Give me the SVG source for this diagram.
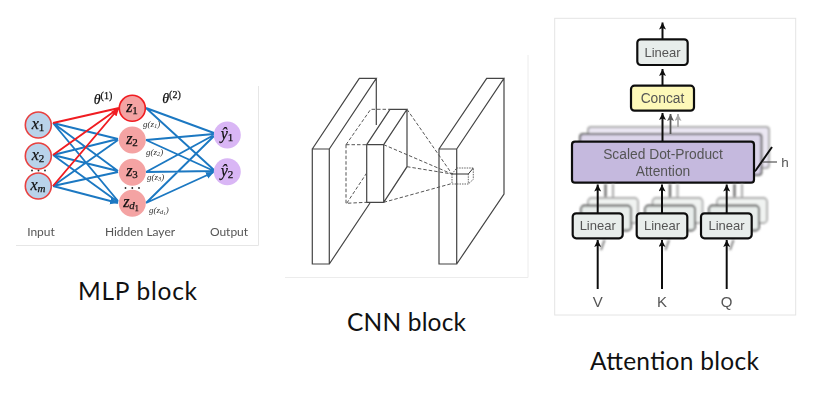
<svg xmlns="http://www.w3.org/2000/svg" width="832" height="400" viewBox="0 0 832 400">
<style>
.cap{font-family:"Lato","Open Sans","Liberation Sans",sans-serif;font-size:24.500px;fill:#111}
.m{font-family:"Liberation Serif",serif;font-style:italic;fill:#111;text-anchor:middle;stroke:#111;stroke-width:.25}
.mg{font-family:"Liberation Serif",serif;font-style:italic;fill:#333;font-size:9px}
.ax{font-family:"Lato","Liberation Sans",sans-serif;font-size:12px;fill:#555;text-anchor:middle}
.h{font-family:"Liberation Sans",Arial,sans-serif;fill:#555;text-anchor:middle}
.blue{stroke:#1b78c2;stroke-width:1.9;fill:none;marker-end:url(#ab)}
.red{stroke:#f01c20;stroke-width:1.9;fill:none;marker-end:url(#ar)}
.inp{fill:#b9d3ea;stroke:#e8413f;stroke-width:1.6}
.hid{fill:#f4a3a3}
.out{fill:#d9b6f5}
.s{stroke:#444;stroke-width:1.2;fill:none}
.d{stroke:#555;stroke-width:1;fill:none;stroke-dasharray:3.500 2}
.lin{fill:#e8edeb;stroke:#111;stroke-width:2.2}
.arr{stroke:#111;stroke-width:2;fill:none;marker-end:url(#ak)}
.panel{fill:#fff;stroke:#e4e4e4;stroke-width:1}
.dot{fill:#222}
</style>
<defs>
<filter id="soft" filterUnits="userSpaceOnUse" x="0" y="0" width="832" height="400"><feGaussianBlur stdDeviation="0.45"/></filter>
<filter id="soft2" filterUnits="userSpaceOnUse" x="0" y="0" width="832" height="400"><feGaussianBlur stdDeviation="0.8"/></filter>
<marker id="ab" markerUnits="userSpaceOnUse" markerWidth="9" markerHeight="8" refX="8" refY="4" orient="auto"><path d="M0 0.500L8 4L0 7.500Z" fill="#1b78c2"/></marker>
<marker id="ar" markerUnits="userSpaceOnUse" markerWidth="9" markerHeight="8" refX="8" refY="4" orient="auto"><path d="M0 0.500L8 4L0 7.500Z" fill="#f01c20"/></marker>
<marker id="ak" markerUnits="userSpaceOnUse" markerWidth="8" markerHeight="8" refX="7" refY="3.500" orient="auto"><path d="M0 0L7 3.500L0 7L1.500 3.500Z" fill="#111"/></marker>
<marker id="ak2" markerUnits="userSpaceOnUse" markerWidth="8" markerHeight="8" refX="7" refY="3.500" orient="auto"><path d="M0 0L7 3.500L0 7L1.500 3.500Z" fill="#555"/></marker>
<marker id="ak3" markerUnits="userSpaceOnUse" markerWidth="8" markerHeight="8" refX="7" refY="3.500" orient="auto"><path d="M0 0L7 3.500L0 7L1.500 3.500Z" fill="#aaa"/></marker>
</defs>
<rect width="832" height="400" fill="#fff"/>

<g id="mlp" filter="url(#soft)">
<path d="M16 245.500H258.500V86" fill="none" stroke="#e6e6e6"/>
<g id="mlp-connectors">
<path class="blue" d="M53 123L118 139M53 123L118 171M53 123L118 201M53 155L118 139M53 155L118 171M53 155L118 202M53 186L118 140M53 186L118 172M53 186L118 203"/>
<path class="blue" d="M146 108L214 133M146 108L214 170M146 140L214 134M146 140L214 171M146 172L214 135M146 172L214 171M146 203L214 136M146 203L214 172"/>
<path class="red" d="M53 123L119 108M53 155L119 108M53 186L119 108"/>
</g>
<circle class="dot" cx="32" cy="170.500" r=".9"/><circle class="dot" cx="38.500" cy="170.500" r=".9"/><circle class="dot" cx="45" cy="170.500" r=".9"/>
<circle class="dot" cx="125.500" cy="188" r=".9"/><circle class="dot" cx="132.300" cy="188" r=".9"/><circle class="dot" cx="139" cy="188" r=".9"/>
<g id="x1"><circle class="inp" cx="38.300" cy="125" r="13"/><text class="m" x="38" y="129" font-size="16">x<tspan font-size="11" dy="2" font-style="normal">1</tspan></text></g>
<g id="x2"><circle class="inp" cx="38.300" cy="156" r="13"/><text class="m" x="38" y="160" font-size="16">x<tspan font-size="11" dy="2" font-style="normal">2</tspan></text></g>
<g id="xm"><circle class="inp" cx="38.300" cy="186" r="13"/><text class="m" x="38" y="190" font-size="16">x<tspan font-size="11" dy="2">m</tspan></text></g>
<g id="z1"><circle class="hid" cx="132.300" cy="108.300" r="13" stroke="#f01c20" stroke-width="1.600"/><text class="m" x="132" y="112" font-size="16">z<tspan font-size="11" dy="2" font-style="normal">1</tspan></text></g>
<g id="z2"><circle class="hid" cx="132.300" cy="140" r="13.500"/><text class="m" x="132" y="144" font-size="16">z<tspan font-size="11" dy="2" font-style="normal">2</tspan></text></g>
<g id="z3"><circle class="hid" cx="132.300" cy="172.300" r="13.500"/><text class="m" x="132" y="176" font-size="16">z<tspan font-size="11" dy="2" font-style="normal">3</tspan></text></g>
<g id="zd"><circle class="hid" cx="132.300" cy="203.300" r="13.500"/><text class="m" x="131" y="207" font-size="16">z<tspan font-size="11" dy="2">d</tspan><tspan font-size="8" dy="2" font-style="normal">1</tspan></text></g>
<g id="y1"><circle class="out" cx="227.300" cy="135" r="13.500"/><text class="m" x="227" y="139" font-size="16">ŷ<tspan font-size="11" dy="2" font-style="normal">1</tspan></text></g>
<g id="y2"><circle class="out" cx="227.300" cy="171.700" r="13.500"/><text class="m" x="227" y="175.500" font-size="16">ŷ<tspan font-size="11" dy="2" font-style="normal">2</tspan></text></g>
<text class="m" x="103" y="104" font-size="14">θ<tspan font-size="10" dy="-5" font-style="normal">(1)</tspan></text>
<text class="m" x="171.500" y="103" font-size="14">θ<tspan font-size="10" dy="-5" font-style="normal">(2)</tspan></text>
<text class="mg" x="143" y="127">g(z<tspan font-size="6.500" dy="1">1</tspan><tspan dy="-1">)</tspan></text>
<text class="mg" x="146" y="155">g(z<tspan font-size="6.500" dy="1">2</tspan><tspan dy="-1">)</tspan></text>
<text class="mg" x="147" y="180">g(z<tspan font-size="6.500" dy="1">3</tspan><tspan dy="-1">)</tspan></text>
<text class="mg" x="149" y="213">g(z<tspan font-size="6.500" dy="1">d</tspan><tspan font-size="5" dy="1">1</tspan><tspan dy="-2">)</tspan></text>
<text class="ax" x="41" y="236">Input</text>
<text class="ax" x="140" y="236">Hidden Layer</text>
<text class="ax" x="229" y="236">Output</text>
</g>

<g id="cnn" filter="url(#soft)">
<path d="M285 277.500H528V55" fill="none" stroke="#ececec"/>
<g id="slab1"><path class="s" d="M312.300 149H329.300V264H312.300ZM312.300 149L359.300 78.300H376.300L329.300 149M376.300 78.300V125M329.300 264L370 203"/></g>
<g id="slab3"><path class="s" d="M439 149H456.700V264H439ZM439 149L486.700 78.300H504L456.700 149M504 78.300V194L456.700 264"/></g>
<g id="slab2"><path class="s" d="M366.700 144.700H383.700V202.300H366.700ZM366.700 144.700L390 109.300H407L383.700 144.700M407 109.300V166.700L383.700 202.300"/></g>
<path class="d" d="M346 144.700H366.700M346 144.700V203.300L366.700 202.300M346 144.700L370.700 109.300H390M346.700 203.300L366.700 173"/>
<path class="d" d="M407 109.300L452 174M383.700 144.700L452 174M407 166.700L452 174M383.700 202.300L452 183.500"/>
<path d="M452 174V184H468.300V174M456.700 168H473.300V179.300L468.300 184M452 174L456.700 168" fill="none" stroke="#555" stroke-width=".9" stroke-dasharray="1.500 1"/>
<path d="M452 174H468.300L473.300 168" fill="none" stroke="#333" stroke-width="1"/>
</g>

<g id="attention" filter="url(#soft)">
<rect class="panel" x="554.700" y="18.300" width="241" height="296.700"/>
<g id="att-back" filter="url(#soft2)">
<rect x="588" y="127" width="181" height="41" rx="3" fill="#ebe7f3" stroke="#aaa" stroke-width="2"/>
<rect x="580" y="134" width="181.500" height="41" rx="3" fill="#dcd5ea" stroke="#666" stroke-width="2"/>
</g>
<g id="connectors">
<path class="arr" d="M662.500 85.700V69"/>
<path class="arr" d="M662.500 39.300V22.500"/>
<path d="M670.500 134V114" stroke="#555" stroke-width="1.800" marker-end="url(#ak2)"/>
<path d="M678 127V114" stroke="#aaa" stroke-width="1.800" marker-end="url(#ak3)"/>
<path class="arr" d="M662.500 141.700V113"/>
</g>
<path d="M748 171.500Q753 174 756 170L772 147" stroke="#111" stroke-width="2" fill="none"/>
<path d="M763 162H777" stroke="#555" stroke-width="1.200" fill="none"/>
<text class="h" x="785" y="167" font-size="13.500">h</text>
<g id="scaled-attention"><rect x="572" y="141.700" width="182" height="41" rx="3" fill="#c5b9de" stroke="#111" stroke-width="2.200"/>
<text class="h" x="663" y="159" font-size="13.800">Scaled Dot-Product</text><text class="h" x="663" y="176" font-size="13.800">Attention</text></g>
<g id="concat"><rect x="631" y="85.700" width="63" height="25" rx="3.500" fill="#fdf8b8" stroke="#111" stroke-width="2.200"/><text class="h" x="662.500" y="103" font-size="13.800">Concat</text></g>
<g id="linear-top"><rect class="lin" x="637.300" y="39.300" width="50.400" height="25.700" rx="3.500"/><text class="h" x="662.500" y="57" font-size="13">Linear</text></g>
<g id="bottom-connectors" filter="url(#soft2)">
<path d="M605.500 206V184M670 206V184M734.500 206V184" stroke="#555" stroke-width="2" fill="none"/>
<path d="M613 199V184M677.500 199V184M742 199V184" stroke="#aaa" stroke-width="2" fill="none"/>
<g fill="#f0f3f1" stroke="#aaa" stroke-width="1.800">
<rect x="588" y="198" width="50" height="25" rx="3.500"/><rect x="652.500" y="198" width="50" height="25" rx="3.500"/><rect x="717" y="198" width="50" height="25" rx="3.500"/></g>
<g fill="#e8edeb" stroke="#555" stroke-width="1.800">
<rect x="581" y="205.500" width="50" height="25" rx="3.500"/><rect x="645" y="205.500" width="50" height="25" rx="3.500"/><rect x="709" y="205.500" width="50" height="25" rx="3.500"/></g>
<path d="M601 250L604.500 240M665.500 250L669 240M730 250L733.500 240" stroke="#777" stroke-width="1.800" fill="none"/>
</g>
<g id="input-connectors">
<path class="arr" d="M597.700 213.300V184.500"/>
<path class="arr" d="M662 213.300V184.500"/>
<path class="arr" d="M726.700 213.300V184.500"/>
<path class="arr" d="M597.700 289V240"/>
<path class="arr" d="M662 289V240"/>
<path class="arr" d="M726.700 289V240"/>
</g>
<g id="linear-v"><rect class="lin" x="572.700" y="213.300" width="50" height="25" rx="3.500"/><text class="h" x="597.700" y="230" font-size="13">Linear</text></g>
<g id="linear-k"><rect class="lin" x="636.700" y="213.300" width="50.600" height="25" rx="3.500"/><text class="h" x="662" y="230" font-size="13">Linear</text></g>
<g id="linear-q"><rect class="lin" x="701" y="213.300" width="50.700" height="25" rx="3.500"/><text class="h" x="726.500" y="230" font-size="13">Linear</text></g>
<text class="h" x="597.700" y="307" font-size="15">V</text>
<text class="h" x="662" y="307" font-size="15">K</text>
<text class="h" x="726.700" y="307" font-size="15">Q</text>
</g>

<text class="cap" x="78" y="300" textLength="119" lengthAdjust="spacing">MLP block</text>
<text class="cap" x="347" y="331" textLength="119" lengthAdjust="spacing">CNN block</text>
<text class="cap" x="590" y="370" textLength="169" lengthAdjust="spacing">Attention block</text>
</svg>
